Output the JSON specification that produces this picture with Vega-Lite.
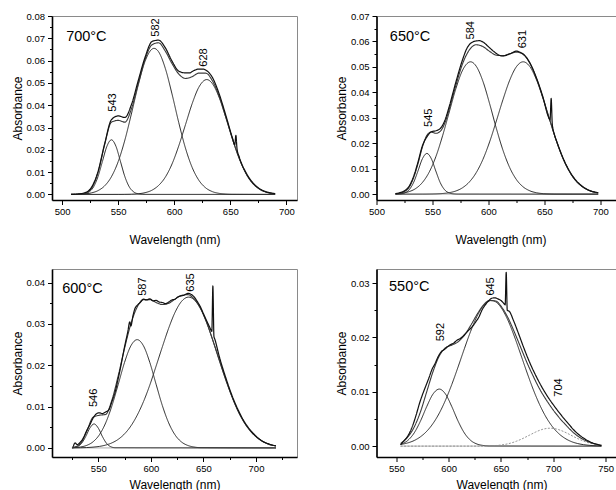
{
"$schema": "https://vega.github.io/schema/vega-lite/v6.json",
"background": "white",
"padding": {"left": 10, "top": 10, "right": 0, "bottom": 0},
"autosize": {"type": "pad"},
"columns": 2,
"bounds": "flush",
"spacing": {"row": 69, "column": 79.5},
"config": {
  "font": "Liberation Sans",
  "view": {"stroke": "#8a8a8a", "strokeWidth": 1},
  "axis": {"domainColor": "#000", "domainWidth": 1.6, "tickColor": "#000", "tickWidth": 1, "labelFont": "Liberation Sans", "labelFontSize": 9.5, "labelColor": "#000", "titleFont": "Liberation Sans", "titleFontSize": 12, "titleFontWeight": "normal", "titleColor": "#000", "grid": false, "labelOverlap": false, "labelFlush": false, "tickCount": 100},
  "axisX": {"labelPadding": 2},
  "axisY": {"labelPadding": 3, "titlePadding": 2}
},
"datasets": {
"labels": [
{"panel":"A","text":"543","wl":545.5,"abs":0.0371},{"panel":"A","text":"582","wl":583.9,"abs":0.0707},{"panel":"A","text":"628","wl":626.4,"abs":0.0573},
{"panel":"B","text":"545","wl":547,"abs":0.0264},{"panel":"B","text":"584","wl":584.8,"abs":0.0608},{"panel":"B","text":"631","wl":631,"abs":0.0573},
{"panel":"C","text":"546","wl":546.2,"abs":0.0099},{"panel":"C","text":"587","wl":592.8,"abs":0.0368},{"panel":"C","text":"635","wl":638,"abs":0.0378},
{"panel":"D","text":"592","wl":593,"abs":0.0193},{"panel":"D","text":"645","wl":640,"abs":0.0277},{"panel":"D","text":"704","wl":705.4,"abs":0.0091}
],
"temps": [
{"panel":"A","text":"700°C","wl":503.6,"abs":0.0704},
{"panel":"B","text":"650°C","wl":511.9,"abs":0.0616},
{"panel":"C","text":"600°C","wl":515.7,"abs":0.0385},
{"panel":"D","text":"550°C","wl":543,"abs":0.0293}
],
"curves": [
{"panel":"A","curve":"base","kind":"base","wl":508,"abs":0},{"panel":"A","curve":"base","kind":"base","wl":690,"abs":0},
{"panel":"A","curve":"G1","kind":"peak","wl":508,"abs":0},{"panel":"A","curve":"G1","kind":"peak","wl":512,"abs":0.00001},{"panel":"A","curve":"G1","kind":"peak","wl":516,"abs":0.00005},{"panel":"A","curve":"G1","kind":"peak","wl":520,"abs":0.00027},{"panel":"A","curve":"G1","kind":"peak","wl":524,"abs":0.00108},{"panel":"A","curve":"G1","kind":"peak","wl":528,"abs":0.00331},{"panel":"A","curve":"G1","kind":"peak","wl":532,"abs":0.00796},{"panel":"A","curve":"G1","kind":"peak","wl":536,"abs":0.01486},{"panel":"A","curve":"G1","kind":"peak","wl":540,"abs":0.02162},{"panel":"A","curve":"G1","kind":"peak","wl":544,"abs":0.0245},{"panel":"A","curve":"G1","kind":"peak","wl":548,"abs":0.02162},{"panel":"A","curve":"G1","kind":"peak","wl":552,"abs":0.01486},{"panel":"A","curve":"G1","kind":"peak","wl":556,"abs":0.00796},{"panel":"A","curve":"G1","kind":"peak","wl":560,"abs":0.00331},{"panel":"A","curve":"G1","kind":"peak","wl":564,"abs":0.00108},{"panel":"A","curve":"G1","kind":"peak","wl":568,"abs":0.00027},{"panel":"A","curve":"G1","kind":"peak","wl":572,"abs":0.00005},{"panel":"A","curve":"G1","kind":"peak","wl":576,"abs":0.00001},{"panel":"A","curve":"G1","kind":"peak","wl":690,"abs":0},
{"panel":"A","curve":"G2","kind":"peak","wl":508,"abs":0.00002},{"panel":"A","curve":"G2","kind":"peak","wl":514,"abs":0.00008},{"panel":"A","curve":"G2","kind":"peak","wl":520,"abs":0.00024},{"panel":"A","curve":"G2","kind":"peak","wl":526,"abs":0.00067},{"panel":"A","curve":"G2","kind":"peak","wl":532,"abs":0.0017},{"panel":"A","curve":"G2","kind":"peak","wl":538,"abs":0.00387},{"panel":"A","curve":"G2","kind":"peak","wl":544,"abs":0.00794},{"panel":"A","curve":"G2","kind":"peak","wl":550,"abs":0.01467},{"panel":"A","curve":"G2","kind":"peak","wl":556,"abs":0.0244},{"panel":"A","curve":"G2","kind":"peak","wl":562,"abs":0.0365},{"panel":"A","curve":"G2","kind":"peak","wl":568,"abs":0.0492},{"panel":"A","curve":"G2","kind":"peak","wl":574,"abs":0.0597},{"panel":"A","curve":"G2","kind":"peak","wl":582,"abs":0.0655},{"panel":"A","curve":"G2","kind":"peak","wl":586,"abs":0.064},{"panel":"A","curve":"G2","kind":"peak","wl":592,"abs":0.0566},{"panel":"A","curve":"G2","kind":"peak","wl":598,"abs":0.0451},{"panel":"A","curve":"G2","kind":"peak","wl":604,"abs":0.0323},{"panel":"A","curve":"G2","kind":"peak","wl":610,"abs":0.0208},{"panel":"A","curve":"G2","kind":"peak","wl":616,"abs":0.0121},{"panel":"A","curve":"G2","kind":"peak","wl":622,"abs":0.00633},{"panel":"A","curve":"G2","kind":"peak","wl":628,"abs":0.00297},{"panel":"A","curve":"G2","kind":"peak","wl":634,"abs":0.00126},{"panel":"A","curve":"G2","kind":"peak","wl":640,"abs":0.00048},{"panel":"A","curve":"G2","kind":"peak","wl":646,"abs":0.00017},{"panel":"A","curve":"G2","kind":"peak","wl":652,"abs":0.00005},{"panel":"A","curve":"G2","kind":"peak","wl":690,"abs":0},
{"panel":"A","curve":"G3","kind":"peak","wl":508,"abs":0},{"panel":"A","curve":"G3","kind":"peak","wl":550,"abs":0.00001},{"panel":"A","curve":"G3","kind":"peak","wl":556,"abs":0.00003},{"panel":"A","curve":"G3","kind":"peak","wl":562,"abs":0.0001},{"panel":"A","curve":"G3","kind":"peak","wl":568,"abs":0.0003},{"panel":"A","curve":"G3","kind":"peak","wl":574,"abs":0.00078},{"panel":"A","curve":"G3","kind":"peak","wl":580,"abs":0.00185},{"panel":"A","curve":"G3","kind":"peak","wl":586,"abs":0.004},{"panel":"A","curve":"G3","kind":"peak","wl":592,"abs":0.0077},{"panel":"A","curve":"G3","kind":"peak","wl":598,"abs":0.0136},{"panel":"A","curve":"G3","kind":"peak","wl":604,"abs":0.0217},{"panel":"A","curve":"G3","kind":"peak","wl":610,"abs":0.0312},{"panel":"A","curve":"G3","kind":"peak","wl":616,"abs":0.0407},{"panel":"A","curve":"G3","kind":"peak","wl":622,"abs":0.0481},{"panel":"A","curve":"G3","kind":"peak","wl":629,"abs":0.0515},{"panel":"A","curve":"G3","kind":"peak","wl":634,"abs":0.0497},{"panel":"A","curve":"G3","kind":"peak","wl":640,"abs":0.0436},{"panel":"A","curve":"G3","kind":"peak","wl":646,"abs":0.0345},{"panel":"A","curve":"G3","kind":"peak","wl":652,"abs":0.0248},{"panel":"A","curve":"G3","kind":"peak","wl":658,"abs":0.0161},{"panel":"A","curve":"G3","kind":"peak","wl":664,"abs":0.0094},{"panel":"A","curve":"G3","kind":"peak","wl":670,"abs":0.005},{"panel":"A","curve":"G3","kind":"peak","wl":676,"abs":0.0024},{"panel":"A","curve":"G3","kind":"peak","wl":682,"abs":0.00105},{"panel":"A","curve":"G3","kind":"peak","wl":690,"abs":0.0003},
{"panel":"A","curve":"fit","kind":"fit","wl":508,"abs":0},{"panel":"A","curve":"fit","kind":"fit","wl":514,"abs":0.0001},{"panel":"A","curve":"fit","kind":"fit","wl":520,"abs":0.0005},{"panel":"A","curve":"fit","kind":"fit","wl":526,"abs":0.0026},{"panel":"A","curve":"fit","kind":"fit","wl":532,"abs":0.0097},{"panel":"A","curve":"fit","kind":"fit","wl":538,"abs":0.0224},{"panel":"A","curve":"fit","kind":"fit","wl":544,"abs":0.0324},{"panel":"A","curve":"fit","kind":"fit","wl":550,"abs":0.0332},{"panel":"A","curve":"fit","kind":"fit","wl":556,"abs":0.0324},{"panel":"A","curve":"fit","kind":"fit","wl":562,"abs":0.0386},{"panel":"A","curve":"fit","kind":"fit","wl":568,"abs":0.0498},{"panel":"A","curve":"fit","kind":"fit","wl":574,"abs":0.0605},{"panel":"A","curve":"fit","kind":"fit","wl":580,"abs":0.067},{"panel":"A","curve":"fit","kind":"fit","wl":586,"abs":0.068},{"panel":"A","curve":"fit","kind":"fit","wl":592,"abs":0.0643},{"panel":"A","curve":"fit","kind":"fit","wl":598,"abs":0.0587},{"panel":"A","curve":"fit","kind":"fit","wl":604,"abs":0.054},{"panel":"A","curve":"fit","kind":"fit","wl":610,"abs":0.052},{"panel":"A","curve":"fit","kind":"fit","wl":616,"abs":0.0528},{"panel":"A","curve":"fit","kind":"fit","wl":622,"abs":0.0544},{"panel":"A","curve":"fit","kind":"fit","wl":628,"abs":0.0544},{"panel":"A","curve":"fit","kind":"fit","wl":634,"abs":0.051},{"panel":"A","curve":"fit","kind":"fit","wl":640,"abs":0.0441},{"panel":"A","curve":"fit","kind":"fit","wl":646,"abs":0.0347},{"panel":"A","curve":"fit","kind":"fit","wl":652,"abs":0.0248},{"panel":"A","curve":"fit","kind":"fit","wl":658,"abs":0.0161},{"panel":"A","curve":"fit","kind":"fit","wl":664,"abs":0.0094},{"panel":"A","curve":"fit","kind":"fit","wl":670,"abs":0.005},{"panel":"A","curve":"fit","kind":"fit","wl":676,"abs":0.0024},{"panel":"A","curve":"fit","kind":"fit","wl":682,"abs":0.001},{"panel":"A","curve":"fit","kind":"fit","wl":690,"abs":0.0003},
{"panel":"A","curve":"measured","kind":"measured","wl":508,"abs":0},{"panel":"A","curve":"measured","kind":"measured","wl":514,"abs":0.0002},{"panel":"A","curve":"measured","kind":"measured","wl":520,"abs":0.0007},{"panel":"A","curve":"measured","kind":"measured","wl":526,"abs":0.003},{"panel":"A","curve":"measured","kind":"measured","wl":532,"abs":0.0102},{"panel":"A","curve":"measured","kind":"measured","wl":538,"abs":0.0228},{"panel":"A","curve":"measured","kind":"measured","wl":544,"abs":0.0335},{"panel":"A","curve":"measured","kind":"measured","wl":550,"abs":0.0352},{"panel":"A","curve":"measured","kind":"measured","wl":556,"abs":0.0345},{"panel":"A","curve":"measured","kind":"measured","wl":562,"abs":0.0405},{"panel":"A","curve":"measured","kind":"measured","wl":568,"abs":0.0512},{"panel":"A","curve":"measured","kind":"measured","wl":574,"abs":0.0615},{"panel":"A","curve":"measured","kind":"measured","wl":580,"abs":0.0685},{"panel":"A","curve":"measured","kind":"measured","wl":583,"abs":0.069},{"panel":"A","curve":"measured","kind":"measured","wl":586,"abs":0.0692},{"panel":"A","curve":"measured","kind":"measured","wl":592,"abs":0.0658},{"panel":"A","curve":"measured","kind":"measured","wl":598,"abs":0.0598},{"panel":"A","curve":"measured","kind":"measured","wl":604,"abs":0.0553},{"panel":"A","curve":"measured","kind":"measured","wl":610,"abs":0.0545},{"panel":"A","curve":"measured","kind":"measured","wl":614,"abs":0.0545},{"panel":"A","curve":"measured","kind":"measured","wl":616,"abs":0.0551},{"panel":"A","curve":"measured","kind":"measured","wl":622,"abs":0.0562},{"panel":"A","curve":"measured","kind":"measured","wl":626,"abs":0.0562},{"panel":"A","curve":"measured","kind":"measured","wl":628,"abs":0.0558},{"panel":"A","curve":"measured","kind":"measured","wl":634,"abs":0.0525},{"panel":"A","curve":"measured","kind":"measured","wl":640,"abs":0.0452},{"panel":"A","curve":"measured","kind":"measured","wl":646,"abs":0.0355},{"panel":"A","curve":"measured","kind":"measured","wl":652,"abs":0.0252},{"panel":"A","curve":"measured","kind":"measured","wl":654,"abs":0.0222},{"panel":"A","curve":"measured","kind":"measured","wl":655,"abs":0.0265},{"panel":"A","curve":"measured","kind":"measured","wl":656,"abs":0.0205},{"panel":"A","curve":"measured","kind":"measured","wl":658,"abs":0.0168},{"panel":"A","curve":"measured","kind":"measured","wl":664,"abs":0.0098},{"panel":"A","curve":"measured","kind":"measured","wl":670,"abs":0.0053},{"panel":"A","curve":"measured","kind":"measured","wl":676,"abs":0.0026},{"panel":"A","curve":"measured","kind":"measured","wl":682,"abs":0.0012},{"panel":"A","curve":"measured","kind":"measured","wl":690,"abs":0.0004},

{"panel":"B","curve":"base","kind":"base","wl":517,"abs":0},{"panel":"B","curve":"base","kind":"base","wl":698,"abs":0},
{"panel":"B","curve":"G1","kind":"peak","wl":517,"abs":0.00002},{"panel":"B","curve":"G1","kind":"peak","wl":521,"abs":0.0001},{"panel":"B","curve":"G1","kind":"peak","wl":525,"abs":0.00046},{"panel":"B","curve":"G1","kind":"peak","wl":529,"abs":0.00164},{"panel":"B","curve":"G1","kind":"peak","wl":533,"abs":0.00445},{"panel":"B","curve":"G1","kind":"peak","wl":537,"abs":0.00906},{"panel":"B","curve":"G1","kind":"peak","wl":541,"abs":0.0139},{"panel":"B","curve":"G1","kind":"peak","wl":545,"abs":0.016},{"panel":"B","curve":"G1","kind":"peak","wl":549,"abs":0.0139},{"panel":"B","curve":"G1","kind":"peak","wl":553,"abs":0.00906},{"panel":"B","curve":"G1","kind":"peak","wl":557,"abs":0.00445},{"panel":"B","curve":"G1","kind":"peak","wl":561,"abs":0.00164},{"panel":"B","curve":"G1","kind":"peak","wl":565,"abs":0.00046},{"panel":"B","curve":"G1","kind":"peak","wl":569,"abs":0.0001},{"panel":"B","curve":"G1","kind":"peak","wl":573,"abs":0.00002},{"panel":"B","curve":"G1","kind":"peak","wl":698,"abs":0},
{"panel":"B","curve":"G2","kind":"peak","wl":517,"abs":0.00014},{"panel":"B","curve":"G2","kind":"peak","wl":523,"abs":0.00039},{"panel":"B","curve":"G2","kind":"peak","wl":529,"abs":0.00097},{"panel":"B","curve":"G2","kind":"peak","wl":535,"abs":0.0022},{"panel":"B","curve":"G2","kind":"peak","wl":541,"abs":0.00457},{"panel":"B","curve":"G2","kind":"peak","wl":547,"abs":0.0086},{"panel":"B","curve":"G2","kind":"peak","wl":553,"abs":0.0147},{"panel":"B","curve":"G2","kind":"peak","wl":559,"abs":0.0229},{"panel":"B","curve":"G2","kind":"peak","wl":565,"abs":0.0323},{"panel":"B","curve":"G2","kind":"peak","wl":571,"abs":0.0416},{"panel":"B","curve":"G2","kind":"peak","wl":577,"abs":0.0488},{"panel":"B","curve":"G2","kind":"peak","wl":584,"abs":0.052},{"panel":"B","curve":"G2","kind":"peak","wl":589,"abs":0.0503},{"panel":"B","curve":"G2","kind":"peak","wl":595,"abs":0.0444},{"panel":"B","curve":"G2","kind":"peak","wl":601,"abs":0.0356},{"panel":"B","curve":"G2","kind":"peak","wl":607,"abs":0.0259},{"panel":"B","curve":"G2","kind":"peak","wl":613,"abs":0.0172},{"panel":"B","curve":"G2","kind":"peak","wl":619,"abs":0.0104},{"panel":"B","curve":"G2","kind":"peak","wl":625,"abs":0.0057},{"panel":"B","curve":"G2","kind":"peak","wl":631,"abs":0.00285},{"panel":"B","curve":"G2","kind":"peak","wl":637,"abs":0.0013},{"panel":"B","curve":"G2","kind":"peak","wl":643,"abs":0.00054},{"panel":"B","curve":"G2","kind":"peak","wl":649,"abs":0.0002},{"panel":"B","curve":"G2","kind":"peak","wl":655,"abs":0.00007},{"panel":"B","curve":"G2","kind":"peak","wl":661,"abs":0.00002},{"panel":"B","curve":"G2","kind":"peak","wl":698,"abs":0},
{"panel":"B","curve":"G3","kind":"peak","wl":517,"abs":0},{"panel":"B","curve":"G3","kind":"peak","wl":541,"abs":0.00001},{"panel":"B","curve":"G3","kind":"peak","wl":547,"abs":0.00004},{"panel":"B","curve":"G3","kind":"peak","wl":553,"abs":0.0001},{"panel":"B","curve":"G3","kind":"peak","wl":559,"abs":0.00025},{"panel":"B","curve":"G3","kind":"peak","wl":565,"abs":0.00058},{"panel":"B","curve":"G3","kind":"peak","wl":571,"abs":0.00126},{"panel":"B","curve":"G3","kind":"peak","wl":577,"abs":0.00256},{"panel":"B","curve":"G3","kind":"peak","wl":583,"abs":0.00482},{"panel":"B","curve":"G3","kind":"peak","wl":589,"abs":0.0084},{"panel":"B","curve":"G3","kind":"peak","wl":595,"abs":0.0136},{"panel":"B","curve":"G3","kind":"peak","wl":601,"abs":0.0205},{"panel":"B","curve":"G3","kind":"peak","wl":607,"abs":0.0287},{"panel":"B","curve":"G3","kind":"peak","wl":613,"abs":0.0372},{"panel":"B","curve":"G3","kind":"peak","wl":619,"abs":0.0448},{"panel":"B","curve":"G3","kind":"peak","wl":625,"abs":0.0501},{"panel":"B","curve":"G3","kind":"peak","wl":631,"abs":0.052},{"panel":"B","curve":"G3","kind":"peak","wl":637,"abs":0.0501},{"panel":"B","curve":"G3","kind":"peak","wl":643,"abs":0.0448},{"panel":"B","curve":"G3","kind":"peak","wl":649,"abs":0.0372},{"panel":"B","curve":"G3","kind":"peak","wl":655,"abs":0.0287},{"panel":"B","curve":"G3","kind":"peak","wl":661,"abs":0.0205},{"panel":"B","curve":"G3","kind":"peak","wl":667,"abs":0.0136},{"panel":"B","curve":"G3","kind":"peak","wl":673,"abs":0.0084},{"panel":"B","curve":"G3","kind":"peak","wl":679,"abs":0.00482},{"panel":"B","curve":"G3","kind":"peak","wl":685,"abs":0.00256},{"panel":"B","curve":"G3","kind":"peak","wl":691,"abs":0.00126},{"panel":"B","curve":"G3","kind":"peak","wl":698,"abs":0.0005},
{"panel":"B","curve":"fit","kind":"fit","wl":517,"abs":0.00016},{"panel":"B","curve":"fit","kind":"fit","wl":521,"abs":0.0004},{"panel":"B","curve":"fit","kind":"fit","wl":525,"abs":0.001},{"panel":"B","curve":"fit","kind":"fit","wl":529,"abs":0.0026},{"panel":"B","curve":"fit","kind":"fit","wl":533,"abs":0.0063},{"panel":"B","curve":"fit","kind":"fit","wl":537,"abs":0.0119},{"panel":"B","curve":"fit","kind":"fit","wl":541,"abs":0.0185},{"panel":"B","curve":"fit","kind":"fit","wl":545,"abs":0.0231},{"panel":"B","curve":"fit","kind":"fit","wl":549,"abs":0.0244},{"panel":"B","curve":"fit","kind":"fit","wl":553,"abs":0.0239},{"panel":"B","curve":"fit","kind":"fit","wl":557,"abs":0.0247},{"panel":"B","curve":"fit","kind":"fit","wl":561,"abs":0.0279},{"panel":"B","curve":"fit","kind":"fit","wl":565,"abs":0.0334},{"panel":"B","curve":"fit","kind":"fit","wl":571,"abs":0.0429},{"panel":"B","curve":"fit","kind":"fit","wl":577,"abs":0.0514},{"panel":"B","curve":"fit","kind":"fit","wl":583,"abs":0.0567},{"panel":"B","curve":"fit","kind":"fit","wl":589,"abs":0.0587},{"panel":"B","curve":"fit","kind":"fit","wl":595,"abs":0.058},{"panel":"B","curve":"fit","kind":"fit","wl":601,"abs":0.0561},{"panel":"B","curve":"fit","kind":"fit","wl":607,"abs":0.0546},{"panel":"B","curve":"fit","kind":"fit","wl":613,"abs":0.0544},{"panel":"B","curve":"fit","kind":"fit","wl":619,"abs":0.0552},{"panel":"B","curve":"fit","kind":"fit","wl":625,"abs":0.0558},{"panel":"B","curve":"fit","kind":"fit","wl":631,"abs":0.0549},{"panel":"B","curve":"fit","kind":"fit","wl":637,"abs":0.0514},{"panel":"B","curve":"fit","kind":"fit","wl":643,"abs":0.0453},{"panel":"B","curve":"fit","kind":"fit","wl":649,"abs":0.0374},{"panel":"B","curve":"fit","kind":"fit","wl":655,"abs":0.0288},{"panel":"B","curve":"fit","kind":"fit","wl":661,"abs":0.0205},{"panel":"B","curve":"fit","kind":"fit","wl":667,"abs":0.0136},{"panel":"B","curve":"fit","kind":"fit","wl":673,"abs":0.0084},{"panel":"B","curve":"fit","kind":"fit","wl":679,"abs":0.0048},{"panel":"B","curve":"fit","kind":"fit","wl":685,"abs":0.0026},{"panel":"B","curve":"fit","kind":"fit","wl":691,"abs":0.0013},{"panel":"B","curve":"fit","kind":"fit","wl":698,"abs":0.0005},
{"panel":"B","curve":"measured","kind":"measured","wl":517,"abs":0.0002},{"panel":"B","curve":"measured","kind":"measured","wl":521,"abs":0.0006},{"panel":"B","curve":"measured","kind":"measured","wl":525,"abs":0.0013},{"panel":"B","curve":"measured","kind":"measured","wl":529,"abs":0.003},{"panel":"B","curve":"measured","kind":"measured","wl":533,"abs":0.0068},{"panel":"B","curve":"measured","kind":"measured","wl":537,"abs":0.0125},{"panel":"B","curve":"measured","kind":"measured","wl":541,"abs":0.019},{"panel":"B","curve":"measured","kind":"measured","wl":545,"abs":0.0225},{"panel":"B","curve":"measured","kind":"measured","wl":549,"abs":0.0245},{"panel":"B","curve":"measured","kind":"measured","wl":553,"abs":0.0249},{"panel":"B","curve":"measured","kind":"measured","wl":557,"abs":0.0258},{"panel":"B","curve":"measured","kind":"measured","wl":561,"abs":0.0289},{"panel":"B","curve":"measured","kind":"measured","wl":565,"abs":0.0345},{"panel":"B","curve":"measured","kind":"measured","wl":571,"abs":0.0442},{"panel":"B","curve":"measured","kind":"measured","wl":577,"abs":0.053},{"panel":"B","curve":"measured","kind":"measured","wl":581,"abs":0.0575},{"panel":"B","curve":"measured","kind":"measured","wl":583,"abs":0.0588},{"panel":"B","curve":"measured","kind":"measured","wl":586,"abs":0.0598},{"panel":"B","curve":"measured","kind":"measured","wl":589,"abs":0.0602},{"panel":"B","curve":"measured","kind":"measured","wl":592,"abs":0.0603},{"panel":"B","curve":"measured","kind":"measured","wl":595,"abs":0.0598},{"panel":"B","curve":"measured","kind":"measured","wl":601,"abs":0.0575},{"panel":"B","curve":"measured","kind":"measured","wl":607,"abs":0.0553},{"panel":"B","curve":"measured","kind":"measured","wl":610,"abs":0.0545},{"panel":"B","curve":"measured","kind":"measured","wl":613,"abs":0.0543},{"panel":"B","curve":"measured","kind":"measured","wl":619,"abs":0.0551},{"panel":"B","curve":"measured","kind":"measured","wl":625,"abs":0.0562},{"panel":"B","curve":"measured","kind":"measured","wl":628,"abs":0.0558},{"panel":"B","curve":"measured","kind":"measured","wl":631,"abs":0.0551},{"panel":"B","curve":"measured","kind":"measured","wl":637,"abs":0.0516},{"panel":"B","curve":"measured","kind":"measured","wl":643,"abs":0.0455},{"panel":"B","curve":"measured","kind":"measured","wl":649,"abs":0.0376},{"panel":"B","curve":"measured","kind":"measured","wl":653,"abs":0.031},{"panel":"B","curve":"measured","kind":"measured","wl":655,"abs":0.0292},{"panel":"B","curve":"measured","kind":"measured","wl":656,"abs":0.0376},{"panel":"B","curve":"measured","kind":"measured","wl":657,"abs":0.0275},{"panel":"B","curve":"measured","kind":"measured","wl":659,"abs":0.0233},{"panel":"B","curve":"measured","kind":"measured","wl":661,"abs":0.0207},{"panel":"B","curve":"measured","kind":"measured","wl":667,"abs":0.0138},{"panel":"B","curve":"measured","kind":"measured","wl":673,"abs":0.0086},{"panel":"B","curve":"measured","kind":"measured","wl":679,"abs":0.005},{"panel":"B","curve":"measured","kind":"measured","wl":685,"abs":0.0027},{"panel":"B","curve":"measured","kind":"measured","wl":691,"abs":0.0013},{"panel":"B","curve":"measured","kind":"measured","wl":698,"abs":0.0006},

{"panel":"C","curve":"base","kind":"base","wl":525,"abs":0},{"panel":"C","curve":"base","kind":"base","wl":719,"abs":0},
{"panel":"C","curve":"G1","kind":"peak","wl":525,"abs":0},{"panel":"C","curve":"G1","kind":"peak","wl":526,"abs":0.00005},{"panel":"C","curve":"G1","kind":"peak","wl":530,"abs":0.00028},{"panel":"C","curve":"G1","kind":"peak","wl":534,"abs":0.00106},{"panel":"C","curve":"G1","kind":"peak","wl":538,"abs":0.00272},{"panel":"C","curve":"G1","kind":"peak","wl":542,"abs":0.0048},{"panel":"C","curve":"G1","kind":"peak","wl":546,"abs":0.0058},{"panel":"C","curve":"G1","kind":"peak","wl":550,"abs":0.0048},{"panel":"C","curve":"G1","kind":"peak","wl":554,"abs":0.00272},{"panel":"C","curve":"G1","kind":"peak","wl":558,"abs":0.00106},{"panel":"C","curve":"G1","kind":"peak","wl":562,"abs":0.00028},{"panel":"C","curve":"G1","kind":"peak","wl":566,"abs":0.00005},{"panel":"C","curve":"G1","kind":"peak","wl":719,"abs":0},
{"panel":"C","curve":"G2","kind":"peak","wl":525,"abs":0.00004},{"panel":"C","curve":"G2","kind":"peak","wl":527,"abs":0.00007},{"panel":"C","curve":"G2","kind":"peak","wl":533,"abs":0.00022},{"panel":"C","curve":"G2","kind":"peak","wl":539,"abs":0.00061},{"panel":"C","curve":"G2","kind":"peak","wl":545,"abs":0.00147},{"panel":"C","curve":"G2","kind":"peak","wl":551,"abs":0.00316},{"panel":"C","curve":"G2","kind":"peak","wl":557,"abs":0.00603},{"panel":"C","curve":"G2","kind":"peak","wl":563,"abs":0.0102},{"panel":"C","curve":"G2","kind":"peak","wl":569,"abs":0.0154},{"panel":"C","curve":"G2","kind":"peak","wl":575,"abs":0.0207},{"panel":"C","curve":"G2","kind":"peak","wl":581,"abs":0.0247},{"panel":"C","curve":"G2","kind":"peak","wl":587,"abs":0.0262},{"panel":"C","curve":"G2","kind":"peak","wl":593,"abs":0.0247},{"panel":"C","curve":"G2","kind":"peak","wl":599,"abs":0.0207},{"panel":"C","curve":"G2","kind":"peak","wl":605,"abs":0.0154},{"panel":"C","curve":"G2","kind":"peak","wl":611,"abs":0.0102},{"panel":"C","curve":"G2","kind":"peak","wl":617,"abs":0.00603},{"panel":"C","curve":"G2","kind":"peak","wl":623,"abs":0.00316},{"panel":"C","curve":"G2","kind":"peak","wl":629,"abs":0.00147},{"panel":"C","curve":"G2","kind":"peak","wl":635,"abs":0.00061},{"panel":"C","curve":"G2","kind":"peak","wl":641,"abs":0.00022},{"panel":"C","curve":"G2","kind":"peak","wl":647,"abs":0.00007},{"panel":"C","curve":"G2","kind":"peak","wl":719,"abs":0},
{"panel":"C","curve":"G3","kind":"peak","wl":525,"abs":0.00001},{"panel":"C","curve":"G3","kind":"peak","wl":533,"abs":0.00004},{"panel":"C","curve":"G3","kind":"peak","wl":539,"abs":0.00009},{"panel":"C","curve":"G3","kind":"peak","wl":545,"abs":0.00019},{"panel":"C","curve":"G3","kind":"peak","wl":551,"abs":0.00036},{"panel":"C","curve":"G3","kind":"peak","wl":557,"abs":0.00068},{"panel":"C","curve":"G3","kind":"peak","wl":563,"abs":0.00122},{"panel":"C","curve":"G3","kind":"peak","wl":569,"abs":0.00208},{"panel":"C","curve":"G3","kind":"peak","wl":575,"abs":0.0034},{"panel":"C","curve":"G3","kind":"peak","wl":581,"abs":0.0053},{"panel":"C","curve":"G3","kind":"peak","wl":587,"abs":0.0079},{"panel":"C","curve":"G3","kind":"peak","wl":593,"abs":0.0112},{"panel":"C","curve":"G3","kind":"peak","wl":599,"abs":0.0152},{"panel":"C","curve":"G3","kind":"peak","wl":605,"abs":0.0198},{"panel":"C","curve":"G3","kind":"peak","wl":611,"abs":0.0245},{"panel":"C","curve":"G3","kind":"peak","wl":617,"abs":0.029},{"panel":"C","curve":"G3","kind":"peak","wl":623,"abs":0.0328},{"panel":"C","curve":"G3","kind":"peak","wl":629,"abs":0.0354},{"panel":"C","curve":"G3","kind":"peak","wl":636,"abs":0.0365},{"panel":"C","curve":"G3","kind":"peak","wl":641,"abs":0.0359},{"panel":"C","curve":"G3","kind":"peak","wl":647,"abs":0.0338},{"panel":"C","curve":"G3","kind":"peak","wl":653,"abs":0.0304},{"panel":"C","curve":"G3","kind":"peak","wl":659,"abs":0.026},{"panel":"C","curve":"G3","kind":"peak","wl":665,"abs":0.0213},{"panel":"C","curve":"G3","kind":"peak","wl":671,"abs":0.0167},{"panel":"C","curve":"G3","kind":"peak","wl":677,"abs":0.0125},{"panel":"C","curve":"G3","kind":"peak","wl":683,"abs":0.0089},{"panel":"C","curve":"G3","kind":"peak","wl":689,"abs":0.0061},{"panel":"C","curve":"G3","kind":"peak","wl":695,"abs":0.004},{"panel":"C","curve":"G3","kind":"peak","wl":701,"abs":0.0025},{"panel":"C","curve":"G3","kind":"peak","wl":707,"abs":0.0015},{"panel":"C","curve":"G3","kind":"peak","wl":713,"abs":0.00083},{"panel":"C","curve":"G3","kind":"peak","wl":719,"abs":0.00045},
{"panel":"C","curve":"fit","kind":"fit","wl":525,"abs":0.0001},{"panel":"C","curve":"fit","kind":"fit","wl":527,"abs":0.0002},{"panel":"C","curve":"fit","kind":"fit","wl":533,"abs":0.001},{"panel":"C","curve":"fit","kind":"fit","wl":539,"abs":0.004},{"panel":"C","curve":"fit","kind":"fit","wl":545,"abs":0.0074},{"panel":"C","curve":"fit","kind":"fit","wl":551,"abs":0.0079},{"panel":"C","curve":"fit","kind":"fit","wl":557,"abs":0.0081},{"panel":"C","curve":"fit","kind":"fit","wl":563,"abs":0.0116},{"panel":"C","curve":"fit","kind":"fit","wl":569,"abs":0.0175},{"panel":"C","curve":"fit","kind":"fit","wl":575,"abs":0.0241},{"panel":"C","curve":"fit","kind":"fit","wl":581,"abs":0.03},{"panel":"C","curve":"fit","kind":"fit","wl":587,"abs":0.0341},{"panel":"C","curve":"fit","kind":"fit","wl":593,"abs":0.0359},{"panel":"C","curve":"fit","kind":"fit","wl":599,"abs":0.0359},{"panel":"C","curve":"fit","kind":"fit","wl":605,"abs":0.0352},{"panel":"C","curve":"fit","kind":"fit","wl":611,"abs":0.0347},{"panel":"C","curve":"fit","kind":"fit","wl":617,"abs":0.035},{"panel":"C","curve":"fit","kind":"fit","wl":623,"abs":0.036},{"panel":"C","curve":"fit","kind":"fit","wl":629,"abs":0.0369},{"panel":"C","curve":"fit","kind":"fit","wl":635,"abs":0.0371},{"panel":"C","curve":"fit","kind":"fit","wl":641,"abs":0.0361},{"panel":"C","curve":"fit","kind":"fit","wl":647,"abs":0.0339},{"panel":"C","curve":"fit","kind":"fit","wl":653,"abs":0.0304},{"panel":"C","curve":"fit","kind":"fit","wl":659,"abs":0.026},{"panel":"C","curve":"fit","kind":"fit","wl":665,"abs":0.0213},{"panel":"C","curve":"fit","kind":"fit","wl":671,"abs":0.0167},{"panel":"C","curve":"fit","kind":"fit","wl":677,"abs":0.0125},{"panel":"C","curve":"fit","kind":"fit","wl":683,"abs":0.0089},{"panel":"C","curve":"fit","kind":"fit","wl":689,"abs":0.0061},{"panel":"C","curve":"fit","kind":"fit","wl":695,"abs":0.004},{"panel":"C","curve":"fit","kind":"fit","wl":701,"abs":0.0025},{"panel":"C","curve":"fit","kind":"fit","wl":707,"abs":0.0015},{"panel":"C","curve":"fit","kind":"fit","wl":713,"abs":0.0008},{"panel":"C","curve":"fit","kind":"fit","wl":719,"abs":0.0005},
{"panel":"C","curve":"measured","kind":"measured","wl":526,"abs":0.0002},{"panel":"C","curve":"measured","kind":"measured","wl":528,"abs":0.0012},{"panel":"C","curve":"measured","kind":"measured","wl":530,"abs":0.0008},{"panel":"C","curve":"measured","kind":"measured","wl":533,"abs":0.0014},{"panel":"C","curve":"measured","kind":"measured","wl":536,"abs":0.0025},{"panel":"C","curve":"measured","kind":"measured","wl":539,"abs":0.0042},{"panel":"C","curve":"measured","kind":"measured","wl":542,"abs":0.0056},{"panel":"C","curve":"measured","kind":"measured","wl":545,"abs":0.0072},{"panel":"C","curve":"measured","kind":"measured","wl":548,"abs":0.0082},{"panel":"C","curve":"measured","kind":"measured","wl":551,"abs":0.0085},{"panel":"C","curve":"measured","kind":"measured","wl":554,"abs":0.0083},{"panel":"C","curve":"measured","kind":"measured","wl":557,"abs":0.0087},{"panel":"C","curve":"measured","kind":"measured","wl":560,"abs":0.0092},{"panel":"C","curve":"measured","kind":"measured","wl":563,"abs":0.0112},{"panel":"C","curve":"measured","kind":"measured","wl":566,"abs":0.0135},{"panel":"C","curve":"measured","kind":"measured","wl":569,"abs":0.0168},{"panel":"C","curve":"measured","kind":"measured","wl":572,"abs":0.0205},{"panel":"C","curve":"measured","kind":"measured","wl":575,"abs":0.0245},{"panel":"C","curve":"measured","kind":"measured","wl":578,"abs":0.028},{"panel":"C","curve":"measured","kind":"measured","wl":580,"abs":0.0305},{"panel":"C","curve":"measured","kind":"measured","wl":581,"abs":0.0295},{"panel":"C","curve":"measured","kind":"measured","wl":583,"abs":0.032},{"panel":"C","curve":"measured","kind":"measured","wl":585,"abs":0.0338},{"panel":"C","curve":"measured","kind":"measured","wl":587,"abs":0.0345},{"panel":"C","curve":"measured","kind":"measured","wl":590,"abs":0.0352},{"panel":"C","curve":"measured","kind":"measured","wl":593,"abs":0.036},{"panel":"C","curve":"measured","kind":"measured","wl":596,"abs":0.0358},{"panel":"C","curve":"measured","kind":"measured","wl":599,"abs":0.0361},{"panel":"C","curve":"measured","kind":"measured","wl":602,"abs":0.0356},{"panel":"C","curve":"measured","kind":"measured","wl":605,"abs":0.0357},{"panel":"C","curve":"measured","kind":"measured","wl":608,"abs":0.0353},{"panel":"C","curve":"measured","kind":"measured","wl":611,"abs":0.0352},{"panel":"C","curve":"measured","kind":"measured","wl":614,"abs":0.0349},{"panel":"C","curve":"measured","kind":"measured","wl":617,"abs":0.0353},{"panel":"C","curve":"measured","kind":"measured","wl":620,"abs":0.0358},{"panel":"C","curve":"measured","kind":"measured","wl":623,"abs":0.036},{"panel":"C","curve":"measured","kind":"measured","wl":626,"abs":0.0366},{"panel":"C","curve":"measured","kind":"measured","wl":629,"abs":0.0368},{"panel":"C","curve":"measured","kind":"measured","wl":632,"abs":0.037},{"panel":"C","curve":"measured","kind":"measured","wl":635,"abs":0.0374},{"panel":"C","curve":"measured","kind":"measured","wl":638,"abs":0.0372},{"panel":"C","curve":"measured","kind":"measured","wl":641,"abs":0.0366},{"panel":"C","curve":"measured","kind":"measured","wl":644,"abs":0.0355},{"panel":"C","curve":"measured","kind":"measured","wl":647,"abs":0.0342},{"panel":"C","curve":"measured","kind":"measured","wl":650,"abs":0.0325},{"panel":"C","curve":"measured","kind":"measured","wl":653,"abs":0.0308},{"panel":"C","curve":"measured","kind":"measured","wl":656,"abs":0.0292},{"panel":"C","curve":"measured","kind":"measured","wl":658,"abs":0.0282},{"panel":"C","curve":"measured","kind":"measured","wl":659,"abs":0.0392},{"panel":"C","curve":"measured","kind":"measured","wl":660,"abs":0.027},{"panel":"C","curve":"measured","kind":"measured","wl":661,"abs":0.0262},{"panel":"C","curve":"measured","kind":"measured","wl":665,"abs":0.0222},{"panel":"C","curve":"measured","kind":"measured","wl":671,"abs":0.0172},{"panel":"C","curve":"measured","kind":"measured","wl":677,"abs":0.0128},{"panel":"C","curve":"measured","kind":"measured","wl":683,"abs":0.0092},{"panel":"C","curve":"measured","kind":"measured","wl":689,"abs":0.0063},{"panel":"C","curve":"measured","kind":"measured","wl":695,"abs":0.0042},{"panel":"C","curve":"measured","kind":"measured","wl":701,"abs":0.0026},{"panel":"C","curve":"measured","kind":"measured","wl":707,"abs":0.0015},{"panel":"C","curve":"measured","kind":"measured","wl":713,"abs":0.0009},{"panel":"C","curve":"measured","kind":"measured","wl":719,"abs":0.0005},

{"panel":"D","curve":"base","kind":"base","wl":554,"abs":0},{"panel":"D","curve":"base","kind":"base","wl":746,"abs":0},
{"panel":"D","curve":"G1","kind":"peak","wl":554,"abs":0.00034},{"panel":"D","curve":"G1","kind":"peak","wl":561,"abs":0.00106},{"panel":"D","curve":"G1","kind":"peak","wl":567,"abs":0.00242},{"panel":"D","curve":"G1","kind":"peak","wl":573,"abs":0.0046},{"panel":"D","curve":"G1","kind":"peak","wl":579,"abs":0.00727},{"panel":"D","curve":"G1","kind":"peak","wl":585,"abs":0.00958},{"panel":"D","curve":"G1","kind":"peak","wl":591,"abs":0.0105},{"panel":"D","curve":"G1","kind":"peak","wl":597,"abs":0.00958},{"panel":"D","curve":"G1","kind":"peak","wl":603,"abs":0.00727},{"panel":"D","curve":"G1","kind":"peak","wl":609,"abs":0.0046},{"panel":"D","curve":"G1","kind":"peak","wl":615,"abs":0.00242},{"panel":"D","curve":"G1","kind":"peak","wl":621,"abs":0.00106},{"panel":"D","curve":"G1","kind":"peak","wl":627,"abs":0.00039},{"panel":"D","curve":"G1","kind":"peak","wl":633,"abs":0.00012},{"panel":"D","curve":"G1","kind":"peak","wl":639,"abs":0.00003},{"panel":"D","curve":"G1","kind":"peak","wl":746,"abs":0},
{"panel":"D","curve":"G2","kind":"peak","wl":554,"abs":0.0003},{"panel":"D","curve":"G2","kind":"peak","wl":561,"abs":0.0006},{"panel":"D","curve":"G2","kind":"peak","wl":567,"abs":0.00103},{"panel":"D","curve":"G2","kind":"peak","wl":573,"abs":0.00172},{"panel":"D","curve":"G2","kind":"peak","wl":579,"abs":0.00273},{"panel":"D","curve":"G2","kind":"peak","wl":585,"abs":0.00416},{"panel":"D","curve":"G2","kind":"peak","wl":591,"abs":0.00606},{"panel":"D","curve":"G2","kind":"peak","wl":597,"abs":0.00848},{"panel":"D","curve":"G2","kind":"peak","wl":603,"abs":0.01136},{"panel":"D","curve":"G2","kind":"peak","wl":609,"abs":0.01458},{"panel":"D","curve":"G2","kind":"peak","wl":615,"abs":0.01793},{"panel":"D","curve":"G2","kind":"peak","wl":621,"abs":0.02113},{"panel":"D","curve":"G2","kind":"peak","wl":627,"abs":0.02385},{"panel":"D","curve":"G2","kind":"peak","wl":633,"abs":0.0258},{"panel":"D","curve":"G2","kind":"peak","wl":641,"abs":0.0268},{"panel":"D","curve":"G2","kind":"peak","wl":645,"abs":0.02655},{"panel":"D","curve":"G2","kind":"peak","wl":651,"abs":0.02525},{"panel":"D","curve":"G2","kind":"peak","wl":657,"abs":0.02302},{"panel":"D","curve":"G2","kind":"peak","wl":663,"abs":0.0201},{"panel":"D","curve":"G2","kind":"peak","wl":669,"abs":0.01681},{"panel":"D","curve":"G2","kind":"peak","wl":675,"abs":0.01348},{"panel":"D","curve":"G2","kind":"peak","wl":681,"abs":0.01035},{"panel":"D","curve":"G2","kind":"peak","wl":687,"abs":0.00762},{"panel":"D","curve":"G2","kind":"peak","wl":693,"abs":0.00537},{"panel":"D","curve":"G2","kind":"peak","wl":699,"abs":0.00363},{"panel":"D","curve":"G2","kind":"peak","wl":705,"abs":0.00235},{"panel":"D","curve":"G2","kind":"peak","wl":711,"abs":0.00146},{"panel":"D","curve":"G2","kind":"peak","wl":717,"abs":0.00086},{"panel":"D","curve":"G2","kind":"peak","wl":723,"abs":0.00049},{"panel":"D","curve":"G2","kind":"peak","wl":729,"abs":0.00027},{"panel":"D","curve":"G2","kind":"peak","wl":735,"abs":0.00014},{"panel":"D","curve":"G2","kind":"peak","wl":741,"abs":0.00007},{"panel":"D","curve":"G2","kind":"peak","wl":746,"abs":0.00004},
{"panel":"D","curve":"G3","kind":"weak","wl":554,"abs":0},{"panel":"D","curve":"G3","kind":"weak","wl":629,"abs":0.00001},{"panel":"D","curve":"G3","kind":"weak","wl":635,"abs":0.00003},{"panel":"D","curve":"G3","kind":"weak","wl":641,"abs":0.00007},{"panel":"D","curve":"G3","kind":"weak","wl":647,"abs":0.00014},{"panel":"D","curve":"G3","kind":"weak","wl":653,"abs":0.00029},{"panel":"D","curve":"G3","kind":"weak","wl":659,"abs":0.00054},{"panel":"D","curve":"G3","kind":"weak","wl":665,"abs":0.00092},{"panel":"D","curve":"G3","kind":"weak","wl":671,"abs":0.00142},{"panel":"D","curve":"G3","kind":"weak","wl":677,"abs":0.002},{"panel":"D","curve":"G3","kind":"weak","wl":683,"abs":0.00258},{"panel":"D","curve":"G3","kind":"weak","wl":689,"abs":0.00305},{"panel":"D","curve":"G3","kind":"weak","wl":697,"abs":0.0033},{"panel":"D","curve":"G3","kind":"weak","wl":701,"abs":0.00323},{"panel":"D","curve":"G3","kind":"weak","wl":707,"abs":0.00291},{"panel":"D","curve":"G3","kind":"weak","wl":713,"abs":0.0024},{"panel":"D","curve":"G3","kind":"weak","wl":719,"abs":0.0018},{"panel":"D","curve":"G3","kind":"weak","wl":725,"abs":0.00124},{"panel":"D","curve":"G3","kind":"weak","wl":731,"abs":0.00078},{"panel":"D","curve":"G3","kind":"weak","wl":737,"abs":0.00045},{"panel":"D","curve":"G3","kind":"weak","wl":743,"abs":0.00023},{"panel":"D","curve":"G3","kind":"weak","wl":746,"abs":0.00015},
{"panel":"D","curve":"fit","kind":"fit","wl":554,"abs":0.0005},{"panel":"D","curve":"fit","kind":"fit","wl":561,"abs":0.0017},{"panel":"D","curve":"fit","kind":"fit","wl":567,"abs":0.0035},{"panel":"D","curve":"fit","kind":"fit","wl":573,"abs":0.0063},{"panel":"D","curve":"fit","kind":"fit","wl":579,"abs":0.01},{"panel":"D","curve":"fit","kind":"fit","wl":585,"abs":0.0137},{"panel":"D","curve":"fit","kind":"fit","wl":591,"abs":0.0166},{"panel":"D","curve":"fit","kind":"fit","wl":597,"abs":0.0181},{"panel":"D","curve":"fit","kind":"fit","wl":603,"abs":0.0186},{"panel":"D","curve":"fit","kind":"fit","wl":609,"abs":0.0192},{"panel":"D","curve":"fit","kind":"fit","wl":615,"abs":0.0204},{"panel":"D","curve":"fit","kind":"fit","wl":621,"abs":0.0222},{"panel":"D","curve":"fit","kind":"fit","wl":627,"abs":0.0242},{"panel":"D","curve":"fit","kind":"fit","wl":633,"abs":0.0259},{"panel":"D","curve":"fit","kind":"fit","wl":639,"abs":0.0268},{"panel":"D","curve":"fit","kind":"fit","wl":645,"abs":0.0267},{"panel":"D","curve":"fit","kind":"fit","wl":651,"abs":0.0255},{"panel":"D","curve":"fit","kind":"fit","wl":657,"abs":0.0235},{"panel":"D","curve":"fit","kind":"fit","wl":663,"abs":0.0209},{"panel":"D","curve":"fit","kind":"fit","wl":669,"abs":0.0181},{"panel":"D","curve":"fit","kind":"fit","wl":675,"abs":0.0153},{"panel":"D","curve":"fit","kind":"fit","wl":681,"abs":0.0128},{"panel":"D","curve":"fit","kind":"fit","wl":687,"abs":0.0105},{"panel":"D","curve":"fit","kind":"fit","wl":693,"abs":0.0086},{"panel":"D","curve":"fit","kind":"fit","wl":699,"abs":0.0069},{"panel":"D","curve":"fit","kind":"fit","wl":705,"abs":0.0054},{"panel":"D","curve":"fit","kind":"fit","wl":711,"abs":0.0041},{"panel":"D","curve":"fit","kind":"fit","wl":717,"abs":0.0029},{"panel":"D","curve":"fit","kind":"fit","wl":723,"abs":0.0019},{"panel":"D","curve":"fit","kind":"fit","wl":729,"abs":0.0012},{"panel":"D","curve":"fit","kind":"fit","wl":735,"abs":0.0007},{"panel":"D","curve":"fit","kind":"fit","wl":741,"abs":0.0004},{"panel":"D","curve":"fit","kind":"fit","wl":746,"abs":0.0002},
{"panel":"D","curve":"measured","kind":"measured","wl":554,"abs":0.0003},{"panel":"D","curve":"measured","kind":"measured","wl":557,"abs":0.0009},{"panel":"D","curve":"measured","kind":"measured","wl":560,"abs":0.0016},{"panel":"D","curve":"measured","kind":"measured","wl":563,"abs":0.0026},{"panel":"D","curve":"measured","kind":"measured","wl":566,"abs":0.004},{"panel":"D","curve":"measured","kind":"measured","wl":569,"abs":0.0058},{"panel":"D","curve":"measured","kind":"measured","wl":572,"abs":0.0078},{"panel":"D","curve":"measured","kind":"measured","wl":575,"abs":0.0095},{"panel":"D","curve":"measured","kind":"measured","wl":578,"abs":0.011},{"panel":"D","curve":"measured","kind":"measured","wl":581,"abs":0.0125},{"panel":"D","curve":"measured","kind":"measured","wl":584,"abs":0.0141},{"panel":"D","curve":"measured","kind":"measured","wl":587,"abs":0.0152},{"panel":"D","curve":"measured","kind":"measured","wl":590,"abs":0.0165},{"panel":"D","curve":"measured","kind":"measured","wl":593,"abs":0.0174},{"panel":"D","curve":"measured","kind":"measured","wl":596,"abs":0.0178},{"panel":"D","curve":"measured","kind":"measured","wl":599,"abs":0.0183},{"panel":"D","curve":"measured","kind":"measured","wl":602,"abs":0.0187},{"panel":"D","curve":"measured","kind":"measured","wl":605,"abs":0.019},{"panel":"D","curve":"measured","kind":"measured","wl":608,"abs":0.0195},{"panel":"D","curve":"measured","kind":"measured","wl":611,"abs":0.0198},{"panel":"D","curve":"measured","kind":"measured","wl":614,"abs":0.0203},{"panel":"D","curve":"measured","kind":"measured","wl":617,"abs":0.0209},{"panel":"D","curve":"measured","kind":"measured","wl":620,"abs":0.0215},{"panel":"D","curve":"measured","kind":"measured","wl":623,"abs":0.0221},{"panel":"D","curve":"measured","kind":"measured","wl":626,"abs":0.0229},{"panel":"D","curve":"measured","kind":"measured","wl":629,"abs":0.0238},{"panel":"D","curve":"measured","kind":"measured","wl":632,"abs":0.0251},{"panel":"D","curve":"measured","kind":"measured","wl":635,"abs":0.026},{"panel":"D","curve":"measured","kind":"measured","wl":638,"abs":0.0267},{"panel":"D","curve":"measured","kind":"measured","wl":641,"abs":0.0272},{"panel":"D","curve":"measured","kind":"measured","wl":644,"abs":0.0273},{"panel":"D","curve":"measured","kind":"measured","wl":647,"abs":0.0271},{"panel":"D","curve":"measured","kind":"measured","wl":650,"abs":0.0268},{"panel":"D","curve":"measured","kind":"measured","wl":653,"abs":0.0262},{"panel":"D","curve":"measured","kind":"measured","wl":654,"abs":0.026},{"panel":"D","curve":"measured","kind":"measured","wl":655,"abs":0.032},{"panel":"D","curve":"measured","kind":"measured","wl":656,"abs":0.025},{"panel":"D","curve":"measured","kind":"measured","wl":658,"abs":0.0248},{"panel":"D","curve":"measured","kind":"measured","wl":662,"abs":0.0231},{"panel":"D","curve":"measured","kind":"measured","wl":667,"abs":0.0206},{"panel":"D","curve":"measured","kind":"measured","wl":672,"abs":0.018},{"panel":"D","curve":"measured","kind":"measured","wl":677,"abs":0.0156},{"panel":"D","curve":"measured","kind":"measured","wl":683,"abs":0.0131},{"panel":"D","curve":"measured","kind":"measured","wl":689,"abs":0.0109},{"panel":"D","curve":"measured","kind":"measured","wl":695,"abs":0.009},{"panel":"D","curve":"measured","kind":"measured","wl":702,"abs":0.0071},{"panel":"D","curve":"measured","kind":"measured","wl":708,"abs":0.0056},{"panel":"D","curve":"measured","kind":"measured","wl":715,"abs":0.004},{"panel":"D","curve":"measured","kind":"measured","wl":721,"abs":0.0027},{"panel":"D","curve":"measured","kind":"measured","wl":728,"abs":0.0016},{"panel":"D","curve":"measured","kind":"measured","wl":735,"abs":0.0008},{"panel":"D","curve":"measured","kind":"measured","wl":742,"abs":0.0003},{"panel":"D","curve":"measured","kind":"measured","wl":746,"abs":0.0001}
]
},
"concat": [
{
 "width": 245, "height": 184,
 "layer": [
  {"data": {"name": "curves"}, "transform": [{"filter": "datum.panel === 'A'"}],
   "mark": {"type": "line", "interpolate": "monotone", "clip": true},
   "encoding": {
    "x": {"field": "wl", "type": "quantitative", "scale": {"domain": [491, 709.5], "nice": false, "zero": false},
          "axis": {"title": "Wavelength (nm)", "titlePadding": 18, "tickCount": 100, "labelOverlap": false, "values": [500,525,550,575,600,625,650,675,700], "format": "d", "labelExpr": "datum.value % 50 === 0 ? datum.label : ''", "tickSize": {"condition": {"test": "datum.value % 50 !== 0", "value": 2.5}, "value": 4.5}}},
    "y": {"field": "abs", "type": "quantitative", "scale": {"domain": [-0.0025, 0.08], "nice": false, "zero": false},
          "axis": {"title": "Absorbance", "tickCount": 100, "labelOverlap": false, "values": [0,0.005,0.01,0.015,0.02,0.025,0.03,0.035,0.04,0.045,0.05,0.055,0.06,0.065,0.07,0.075,0.08], "format": ".2f", "labelExpr": "round(datum.value * 1000) % 10 === 0 ? datum.label : ''", "tickSize": {"condition": {"test": "round(datum.value * 1000) % 10 !== 0", "value": 2.5}, "value": 4.5}}},
    "detail": {"field": "curve"},
    "color": {"field": "kind", "type": "nominal", "scale": {"domain": ["measured","fit","peak","weak","base"], "range": ["#111111","#3a3a3a","#2a2a2a","#8a8a8a","#9a9a9a"]}, "legend": null},
    "strokeWidth": {"field": "kind", "type": "ordinal", "scale": {"domain": ["measured","fit","peak","weak","base"], "range": [1.2,0.8,0.8,0.9,0.9]}, "legend": null},
    "strokeDash": {"field": "kind", "type": "nominal", "scale": {"domain": ["measured","fit","peak","weak","base"], "range": [[1,0],[1,0],[1,0],[2,1.5],[1,0]]}, "legend": null}
   }},
  {"data": {"name": "labels"}, "transform": [{"filter": "datum.panel === 'A'"}],
   "mark": {"type": "text", "angle": 270, "align": "left", "baseline": "middle", "font": "Liberation Sans", "fontSize": 11, "color": "#000"},
   "encoding": {"x": {"field": "wl", "type": "quantitative"}, "y": {"field": "abs", "type": "quantitative"}, "text": {"field": "text"}}},
  {"data": {"name": "temps"}, "transform": [{"filter": "datum.panel === 'A'"}],
   "mark": {"type": "text", "align": "left", "baseline": "middle", "font": "Liberation Sans", "fontSize": 14.5, "color": "#000"},
   "encoding": {"x": {"field": "wl", "type": "quantitative"}, "y": {"field": "abs", "type": "quantitative"}, "text": {"field": "text"}}}
 ]
},
{
 "width": 248, "height": 184,
 "layer": [
  {"data": {"name": "curves"}, "transform": [{"filter": "datum.panel === 'B'"}],
   "mark": {"type": "line", "interpolate": "monotone", "clip": true},
   "encoding": {
    "x": {"field": "wl", "type": "quantitative", "scale": {"domain": [500, 721.5], "nice": false, "zero": false},
          "axis": {"title": "Wavelength (nm)", "titlePadding": 18, "tickCount": 100, "labelOverlap": false, "values": [500,525,550,575,600,625,650,675,700], "format": "d", "labelExpr": "datum.value % 50 === 0 ? datum.label : ''", "tickSize": {"condition": {"test": "datum.value % 50 !== 0", "value": 2.5}, "value": 4.5}}},
    "y": {"field": "abs", "type": "quantitative", "scale": {"domain": [-0.0023, 0.07], "nice": false, "zero": false},
          "axis": {"title": "Absorbance", "tickCount": 100, "labelOverlap": false, "values": [0,0.005,0.01,0.015,0.02,0.025,0.03,0.035,0.04,0.045,0.05,0.055,0.06,0.065,0.07], "format": ".2f", "labelExpr": "round(datum.value * 1000) % 10 === 0 ? datum.label : ''", "tickSize": {"condition": {"test": "round(datum.value * 1000) % 10 !== 0", "value": 2.5}, "value": 4.5}}},
    "detail": {"field": "curve"},
    "color": {"field": "kind", "type": "nominal", "scale": {"domain": ["measured","fit","peak","weak","base"], "range": ["#111111","#3a3a3a","#2a2a2a","#8a8a8a","#9a9a9a"]}, "legend": null},
    "strokeWidth": {"field": "kind", "type": "ordinal", "scale": {"domain": ["measured","fit","peak","weak","base"], "range": [1.2,0.8,0.8,0.9,0.9]}, "legend": null},
    "strokeDash": {"field": "kind", "type": "nominal", "scale": {"domain": ["measured","fit","peak","weak","base"], "range": [[1,0],[1,0],[1,0],[2,1.5],[1,0]]}, "legend": null}
   }},
  {"data": {"name": "labels"}, "transform": [{"filter": "datum.panel === 'B'"}],
   "mark": {"type": "text", "angle": 270, "align": "left", "baseline": "middle", "font": "Liberation Sans", "fontSize": 11, "color": "#000"},
   "encoding": {"x": {"field": "wl", "type": "quantitative"}, "y": {"field": "abs", "type": "quantitative"}, "text": {"field": "text"}}},
  {"data": {"name": "temps"}, "transform": [{"filter": "datum.panel === 'B'"}],
   "mark": {"type": "text", "align": "left", "baseline": "middle", "font": "Liberation Sans", "fontSize": 14.5, "color": "#000"},
   "encoding": {"x": {"field": "wl", "type": "quantitative"}, "y": {"field": "abs", "type": "quantitative"}, "text": {"field": "text"}}}
 ]
},
{
 "width": 245, "height": 188,
 "layer": [
  {"data": {"name": "curves"}, "transform": [{"filter": "datum.panel === 'C'"}],
   "mark": {"type": "line", "interpolate": "monotone", "clip": true},
   "encoding": {
    "x": {"field": "wl", "type": "quantitative", "scale": {"domain": [506, 739], "nice": false, "zero": false},
          "axis": {"title": "Wavelength (nm)", "titlePadding": 6, "tickCount": 100, "labelOverlap": false, "values": [525,550,575,600,625,650,675,700,725], "format": "d", "labelExpr": "datum.value % 50 === 0 ? datum.label : ''", "tickSize": {"condition": {"test": "datum.value % 50 !== 0", "value": 2.5}, "value": 4.5}}},
    "y": {"field": "abs", "type": "quantitative", "scale": {"domain": [-0.0022, 0.0433], "nice": false, "zero": false},
          "axis": {"title": "Absorbance", "tickCount": 100, "labelOverlap": false, "values": [0,0.005,0.01,0.015,0.02,0.025,0.03,0.035,0.04], "format": ".2f", "labelExpr": "round(datum.value * 1000) % 10 === 0 ? datum.label : ''", "tickSize": {"condition": {"test": "round(datum.value * 1000) % 10 !== 0", "value": 2.5}, "value": 4.5}}},
    "detail": {"field": "curve"},
    "color": {"field": "kind", "type": "nominal", "scale": {"domain": ["measured","fit","peak","weak","base"], "range": ["#111111","#3a3a3a","#2a2a2a","#8a8a8a","#9a9a9a"]}, "legend": null},
    "strokeWidth": {"field": "kind", "type": "ordinal", "scale": {"domain": ["measured","fit","peak","weak","base"], "range": [1.2,0.8,0.8,0.9,0.9]}, "legend": null},
    "strokeDash": {"field": "kind", "type": "nominal", "scale": {"domain": ["measured","fit","peak","weak","base"], "range": [[1,0],[1,0],[1,0],[2,1.5],[1,0]]}, "legend": null}
   }},
  {"data": {"name": "labels"}, "transform": [{"filter": "datum.panel === 'C'"}],
   "mark": {"type": "text", "angle": 270, "align": "left", "baseline": "middle", "font": "Liberation Sans", "fontSize": 11, "color": "#000"},
   "encoding": {"x": {"field": "wl", "type": "quantitative"}, "y": {"field": "abs", "type": "quantitative"}, "text": {"field": "text"}}},
  {"data": {"name": "temps"}, "transform": [{"filter": "datum.panel === 'C'"}],
   "mark": {"type": "text", "align": "left", "baseline": "middle", "font": "Liberation Sans", "fontSize": 14.5, "color": "#000"},
   "encoding": {"x": {"field": "wl", "type": "quantitative"}, "y": {"field": "abs", "type": "quantitative"}, "text": {"field": "text"}}}
 ]
},
{
 "width": 250, "height": 188,
 "layer": [
  {"data": {"name": "curves"}, "transform": [{"filter": "datum.panel === 'D'"}],
   "mark": {"type": "line", "interpolate": "monotone", "clip": true},
   "encoding": {
    "x": {"field": "wl", "type": "quantitative", "scale": {"domain": [531, 770], "nice": false, "zero": false},
          "axis": {"title": "Wavelength (nm)", "titlePadding": 6, "tickCount": 100, "labelOverlap": false, "values": [550,575,600,625,650,675,700,725,750], "format": "d", "labelExpr": "datum.value % 50 === 0 ? datum.label : ''", "tickSize": {"condition": {"test": "datum.value % 50 !== 0", "value": 2.5}, "value": 4.5}}},
    "y": {"field": "abs", "type": "quantitative", "scale": {"domain": [-0.002, 0.0326], "nice": false, "zero": false},
          "axis": {"title": "Absorbance", "tickCount": 100, "labelOverlap": false, "values": [0,0.005,0.01,0.015,0.02,0.025,0.03], "format": ".2f", "labelExpr": "round(datum.value * 1000) % 10 === 0 ? datum.label : ''", "tickSize": {"condition": {"test": "round(datum.value * 1000) % 10 !== 0", "value": 2.5}, "value": 4.5}}},
    "detail": {"field": "curve"},
    "color": {"field": "kind", "type": "nominal", "scale": {"domain": ["measured","fit","peak","weak","base"], "range": ["#111111","#3a3a3a","#2a2a2a","#8a8a8a","#9a9a9a"]}, "legend": null},
    "strokeWidth": {"field": "kind", "type": "ordinal", "scale": {"domain": ["measured","fit","peak","weak","base"], "range": [1.2,0.8,0.8,0.9,0.9]}, "legend": null},
    "strokeDash": {"field": "kind", "type": "nominal", "scale": {"domain": ["measured","fit","peak","weak","base"], "range": [[1,0],[1,0],[1,0],[2,1.5],[1,0]]}, "legend": null}
   }},
  {"data": {"name": "labels"}, "transform": [{"filter": "datum.panel === 'D'"}],
   "mark": {"type": "text", "angle": 270, "align": "left", "baseline": "middle", "font": "Liberation Sans", "fontSize": 11, "color": "#000"},
   "encoding": {"x": {"field": "wl", "type": "quantitative"}, "y": {"field": "abs", "type": "quantitative"}, "text": {"field": "text"}}},
  {"data": {"name": "temps"}, "transform": [{"filter": "datum.panel === 'D'"}],
   "mark": {"type": "text", "align": "left", "baseline": "middle", "font": "Liberation Sans", "fontSize": 14.5, "color": "#000"},
   "encoding": {"x": {"field": "wl", "type": "quantitative"}, "y": {"field": "abs", "type": "quantitative"}, "text": {"field": "text"}}}
 ]
}
]
}
